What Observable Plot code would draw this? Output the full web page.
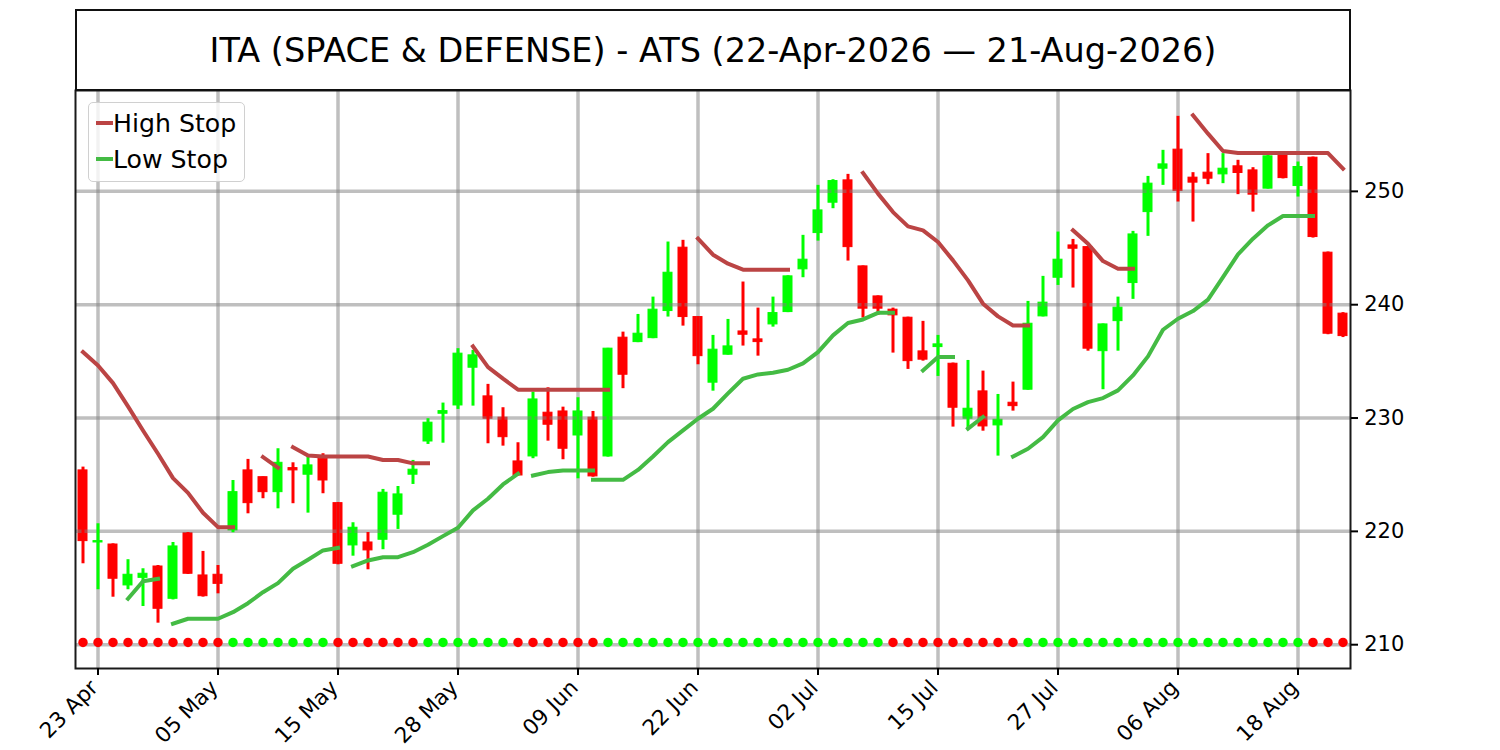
<!DOCTYPE html>
<html>
<head>
<meta charset="utf-8">
<script src="https://cdn.jsdelivr.net/npm/d3@7"></script>
<script src="https://cdn.jsdelivr.net/npm/@observablehq/plot@0.6"></script>
<style>
  html, body { margin: 0; padding: 0; background: #fff; }
  #wrap { position: relative; width: 1500px; height: 750px; font-family: "DejaVu Sans", sans-serif; }
  #chart svg text { font-family: "DejaVu Sans", sans-serif; }
  #chart svg g[aria-label="x-axis tick label"] text { font-size: 21.5px; }
  #chart svg g[aria-label="y-axis tick label"] text { font-size: 21px; }
  #title { position: absolute; left: 75px; top: 9px; width: 1276px; height: 82px; box-sizing: border-box;
           border: 2px solid #111; display: flex; align-items: center; justify-content: center;
           font-size: 33.5px; color: #000; background: #fff; padding-top: 1px; }
  #legend { position: absolute; left: 88px; top: 102px; width: 157px; height: 80px; box-sizing: border-box;
            border: 1.3px solid #d0d0d0; border-radius: 5px; background: rgba(255,255,255,0.8); }
  .row { position: absolute; left: 0; height: 30px; display: flex; align-items: center; font-size: 25.2px; color: #000; }
  .sw { width: 17px; height: 4px; margin-left: 7px; margin-right: 0px; }
</style>
</head>
<body>
<div id="wrap">
  <div id="chart"></div>
  <div id="title">ITA (SPACE &amp; DEFENSE) - ATS (22-Apr-2026 — 21-Aug-2026)</div>
  <div id="legend">
    <div class="row" style="top:5px"><div class="sw" style="background:#bb4444"></div>High Stop</div>
    <div class="row" style="top:41px"><div class="sw" style="background:#44bb44"></div>Low Stop</div>
  </div>
</div>
<script>
// ---- data (trading-day index 0 = 22-Apr-2026 ... 84 = 21-Aug-2026) ----
const open = [225.38,219.02,218.84,215.23,215.9,216.9,214.05,219.84,216.11,216.17,
  220.08,225.38,224.78,223.46,225.58,225.0,226.41,222.49,218.76,219.02,
  219.26,221.47,225.0,227.93,230.38,231.11,234.44,231.91,230.03,226.17,
  226.61,230.47,230.58,228.46,230.03,226.61,237.09,236.7,237.05,239.44,
  245.03,238.91,233.12,235.59,237.64,236.94,238.26,239.35,243.12,246.32,
  249.0,250.97,243.38,240.73,239.56,238.85,235.88,236.26,234.79,229.94,
  232.35,229.35,231.35,232.5,238.97,242.38,245.23,245.08,235.9,238.55,
  241.91,248.17,252.0,253.68,251.21,251.65,251.5,252.21,251.85,250.24,
  253.33,250.47,252.97,244.59,239.21];
const high = [225.67,220.67,218.9,217.5,216.7,216.99,219.02,219.9,218.23,216.99,
  224.49,226.35,224.8,227.29,226.05,226.64,226.85,222.55,220.76,219.9,
  223.7,223.96,226.26,229.94,231.32,236.12,235.97,232.97,230.91,227.82,
  232.29,232.67,230.96,231.79,230.58,236.15,237.58,239.14,240.67,245.53,
  245.68,238.95,237.29,238.7,242.0,239.7,240.67,242.55,246.12,250.53,
  251.03,251.5,243.42,240.78,239.7,238.9,238.53,237.29,234.85,235.08,
  234.14,232.08,233.17,240.29,242.5,246.41,245.76,245.12,238.3,240.67,
  246.47,251.32,253.62,256.62,251.65,253.33,253.33,252.74,252.09,253.27,
  253.47,252.59,253.03,244.65,239.3];
const low = [217.14,214.85,214.19,214.85,213.37,211.9,213.95,216.2,214.2,214.49,
  219.88,221.55,222.88,221.99,222.44,221.61,223.32,217.05,217.81,216.61,
  218.38,220.17,224.14,227.67,227.78,230.76,231.05,227.73,227.52,224.9,
  226.41,227.96,226.32,224.64,224.78,226.55,232.59,236.65,237.0,238.91,
  238.11,234.7,232.37,235.55,236.35,235.46,238.02,239.3,242.38,245.61,
  248.47,243.85,238.82,239.06,235.73,234.29,235.02,233.67,229.2,229.06,
  228.84,226.64,230.61,232.45,238.92,241.7,241.47,235.9,232.5,235.9,
  240.47,246.03,250.53,249.06,247.29,250.59,250.68,249.71,248.17,250.2,
  251.1,249.5,245.88,237.35,237.1];
const close = [219.14,219.14,215.82,216.17,216.26,213.17,218.67,216.26,214.28,215.37,
  223.46,222.49,223.46,226.05,225.38,225.82,224.49,217.14,220.32,218.32,
  223.41,223.26,225.44,229.59,230.61,235.68,235.53,229.94,228.31,224.93,
  231.64,229.41,227.29,230.58,224.85,236.12,233.82,237.44,239.56,242.82,
  238.91,235.46,236.03,236.32,237.35,236.7,239.26,242.5,243.97,248.32,
  250.91,245.08,239.65,239.65,239.06,235.02,235.15,236.5,230.91,230.82,
  229.26,229.85,231.05,238.32,240.18,243.97,244.94,236.12,238.26,239.74,
  246.2,250.68,252.38,250.03,250.77,251.12,252.0,251.62,249.71,253.09,
  251.17,252.15,245.97,237.44,237.23];

// stop-line segments: first trading-day index and values
const highStopStarts = [0, 12, 14, 26, 41, 52, 66, 74];
const highStopValues = [
  [235.82,234.64,233.08,231.03,228.9,226.85,224.7,223.4,221.64,220.37,220.37],
  [226.55,225.61],
  [227.43,226.7,226.6,226.6,226.6,226.6,226.3,226.3,226.0,226.0],
  [236.32,234.49,233.47,232.5,232.5,232.5,232.5,232.5,232.5,232.5],
  [245.83,244.41,243.62,243.09,243.09,243.09,243.09],
  [251.62,249.8,248.17,246.91,246.56,245.53,243.91,242.15,240.09,238.97,238.17,238.17],
  [246.56,245.38,243.85,243.18,243.18],
  [256.71,255.09,253.56,253.38,253.38,253.38,253.38,253.38,253.38,253.38,252.0]
];
const lowStopStarts = [3, 6, 18, 30, 34, 56, 59, 62];
const lowStopValues = [
  [214.05,215.6,215.82],
  [211.85,212.29,212.29,212.29,212.87,213.66,214.63,215.43,216.7,217.49,218.32,218.55],
  [216.93,217.43,217.72,217.72,218.16,218.82,219.58,220.32,221.85,222.88,224.14,225.08],
  [224.93,225.23,225.38,225.38,225.38],
  [224.55,224.55,224.55,225.42,226.61,227.87,228.91,229.94,230.82,232.17,233.47,233.85,234.0,234.26,234.82,235.82,237.29,238.38,238.7,239.28,239.28],
  [234.2,235.38,235.38],
  [229.06,230.09],
  [226.61,227.29,228.32,229.79,230.8,231.4,231.76,232.44,233.76,235.44,237.79,238.76,239.44,240.44,242.44,244.44,245.83,247.0,247.82,247.82,247.82]
];

// trend signal per day (-1 = short/red, 1 = long/green), drawn on the signal level
const signal = [-1,-1,-1,-1,-1,-1,-1,-1,-1,-1, 1,1,1,1,1,1,1, -1,-1,-1,-1,-1,-1,
  1,1,1,1,1,1, -1,-1,-1,-1,-1,-1, 1,1,1,1,1,1,1,1,1,1,1,1,1,1,1,1,1,1,1,
  -1,-1,-1,-1,-1,-1,-1,-1,-1, 1,1,1,1,1,1,1,1,1,1,1,1,1,1,1,1,1,1,1, -1,-1,-1];
const signalLevel = 210.2;

const tickIdx = [1, 9, 17, 25, 33, 41, 49, 57, 65, 73, 81];
const tickLabels = ["23 Apr","05 May","15 May","28 May","09 Jun","22 Jun","02 Jul","15 Jul","27 Jul","06 Aug","18 Aug"];
const yTicks = [210, 220, 230, 240, 250];

// ---- build tables ----
const UP = "#00ff00", DOWN = "#ff0000";
const candles = open.map((o, i) => ({i, open: o, high: high[i], low: low[i], close: close[i], up: close[i] >= o}));
const toPoints = (starts, values) => starts.flatMap((s, k) => values[k].map((v, j) => ({i: s + j, v, seg: k})));
const highStop = toPoints(highStopStarts, highStopValues);
const lowStop = toPoints(lowStopStarts, lowStopValues);
const signals = signal.map((s, i) => ({i, s, v: signalLevel}));
const labelOf = new Map(tickIdx.map((t, k) => [t, tickLabels[k]]));

const chart = Plot.plot({
  width: 1500, height: 750,
  marginLeft: 75, marginRight: 150, marginTop: 90, marginBottom: 82,
  style: {fontFamily: "DejaVu Sans, sans-serif", fontSize: "21px", color: "#000", background: "#fff"},
  x: {type: "linear", domain: [-0.5, 84.5]},
  y: {domain: [207.9, 258.9]},
  marks: [
    Plot.rect(candles, {x1: d => d.i - 0.3, x2: d => d.i + 0.3, y1: "open", y2: "close",
      fill: d => d.up ? UP : DOWN, stroke: d => d.up ? UP : DOWN, strokeWidth: 1}),
    Plot.gridX(tickIdx, {stroke: "#808080", strokeOpacity: 0.5, strokeWidth: 3.5}),
    Plot.gridY(yTicks, {stroke: "#808080", strokeOpacity: 0.5, strokeWidth: 3.5}),
    Plot.ruleX(candles, {x: "i", y1: "low", y2: "high", stroke: d => d.up ? UP : DOWN, strokeWidth: 3}),
    Plot.line(highStop, {x: "i", y: "v", z: "seg", stroke: "#bb4444", strokeWidth: 4, strokeLinecap: "square", strokeLinejoin: "round"}),
    Plot.line(lowStop, {x: "i", y: "v", z: "seg", stroke: "#44bb44", strokeWidth: 4, strokeLinecap: "square", strokeLinejoin: "round"}),
    Plot.dot(signals, {x: "i", y: "v", r: 4.7, fill: d => d.s > 0 ? UP : DOWN, stroke: null}),
    Plot.frame({stroke: "#1a1a1a", strokeWidth: 2}),
    Plot.axisX(tickIdx, {tickFormat: d => labelOf.get(d), tickRotate: -45, tickSize: 7, tickPadding: 5,
      strokeWidth: 2, fontSize: 21.5, label: null}),
    Plot.axisY(yTicks, {anchor: "right", tickSize: 7, tickPadding: 6.7, strokeWidth: 2, fontSize: 21, label: null})
  ]
});
document.getElementById("chart").appendChild(chart);
// nudge the rotated date labels left to sit like the reference (text only, ticks untouched)
chart.querySelectorAll('g[aria-label="x-axis tick label"] text').forEach(t => t.setAttribute("dx", "-5"));
</script>
</body>
</html>
